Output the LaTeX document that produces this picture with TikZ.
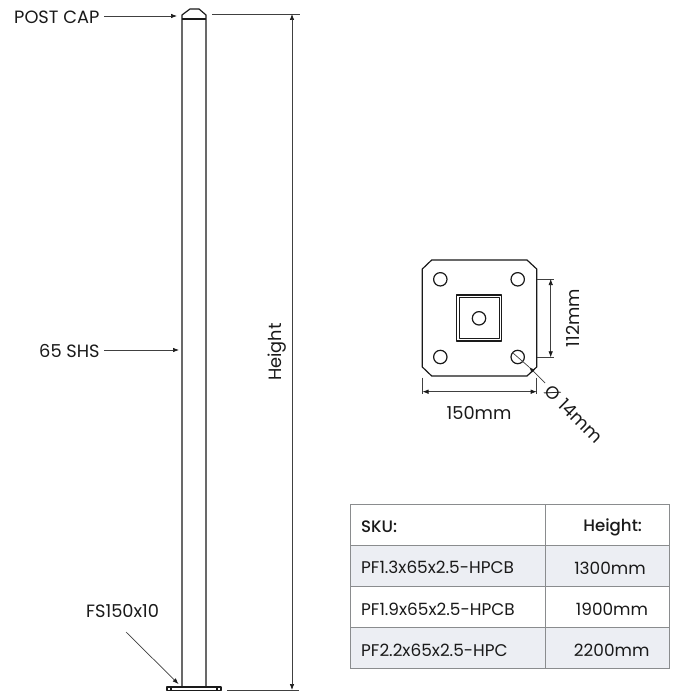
\documentclass[tikz,border=0pt]{standalone}
\usepackage{fontspec}
\setmainfont{Poppins}
\usetikzlibrary{arrows.meta}
\definecolor{ink}{HTML}{1A1A1A}
\definecolor{dimc}{HTML}{404040}
\definecolor{rowc}{HTML}{ECEEF3}
\definecolor{gridc}{HTML}{8A8C8E}
\tikzset{
  part/.style={draw=ink,line width=1.2pt,line join=round},
  dimline/.style={draw=dimc,line width=0.7pt},
  dimarrow/.style={dimline,-{Latex[length=6pt,width=4.5pt,color=ink]}},
  dimboth/.style={dimline,{Latex[length=6pt,width=4.5pt,color=ink]}-{Latex[length=6pt,width=4.5pt,color=ink]}},
  lab/.style={text=ink,inner sep=0pt,font=\fontsize{17.8}{20}\selectfont},
  cell/.style={text=ink,inner sep=0pt,font=\fontsize{16.9}{20}\selectfont},
  cellh/.style={text=ink,inner sep=0pt,font=\fontsize{16.6}{20}\selectfont\fontspec{Poppins Medium}},
  grid/.style={draw=gridc,line width=1pt}
}
\begin{document}
\begin{tikzpicture}[x=1pt,y=-1pt]
\useasboundingbox (0,0) rectangle (700,700);
\fill[white] (0,0) rectangle (700,700);
% post
\draw[part] (182,687) -- (182,15) -- (190,9) -- (199,9) -- (206,15) -- (206,687);
\draw[part] (182,19) -- (206,19);
\draw[part] (167,687) rectangle (221,690.5);
\draw[part] (171,687) -- (171,690.5);
\draw[part] (217,687) -- (217,690.5);
% labels left
\node[lab,anchor=west] (cap) at (14,17.5) {POST CAP};
\coordinate (capS) at (104,16);
\coordinate (capE) at (177,16);
\draw[dimarrow] (capS) -- (capE);
\node[lab,anchor=west] (shs) at (39,351) {65 SHS};
\coordinate (shsS) at (104,350);
\coordinate (shsE) at (179,350);
\draw[dimarrow] (shsS) -- (shsE);
\node[lab,anchor=west] (fs) at (86,611) {FS150x10};
\coordinate (fsS) at (126,632);
\coordinate (fsE) at (178.5,684);
\draw[dimarrow] (fsS) -- (fsE);
% height
\coordinate (hT1) at (212,14);
\coordinate (hT2) at (300,14);
\coordinate (hB1) at (227,690);
\coordinate (hB2) at (299,690);
\coordinate (hTa) at (292,14);
\coordinate (hBa) at (292,690);
\draw[dimline] (hT1) -- (hT2);
\draw[dimline] (hB1) -- (hB2);
\draw[dimboth] (hTa) -- (hBa);
\node[lab,rotate=90] (height) at (277.5,352) {Height};
% plate
\draw[part] (431.7,260) -- (527,260) -- (536.7,269) -- (536.7,367) -- (527,376) -- (431.7,376) -- (422.3,367) -- (422.3,269) -- cycle;
\draw[part] (456.3,295) rectangle (501.7,341);
\draw[part,line width=0.8pt] (459,297.7) rectangle (499,338.7);
\draw[part] (479,318.3) circle (6.7);
\draw[part] (440.3,279.3) circle (6.7);
\draw[part] (517.7,279.3) circle (6.7);
\draw[part] (440.3,357) circle (6.7);
\draw[part] (517.7,357) circle (6.7);
% 112
\coordinate (aT1) at (537.3,279);
\coordinate (aT2) at (554,279);
\coordinate (aB1) at (537.3,357.3);
\coordinate (aB2) at (554,357.3);
\coordinate (aTa) at (550.7,279);
\coordinate (aBa) at (550.7,357.3);
\draw[dimline] (aT1) -- (aT2);
\draw[dimline] (aB1) -- (aB2);
\draw[dimboth] (aTa) -- (aBa);
\node[lab,rotate=90] (d112) at (573,318) {112mm};
% 150
\coordinate (bL1) at (422.5,377.7);
\coordinate (bL2) at (422.5,394);
\coordinate (bR1) at (536.7,377.7);
\coordinate (bR2) at (536.7,394);
\coordinate (bLa) at (422.5,391.7);
\coordinate (bRa) at (536.7,391.7);
\draw[dimline] (bL1) -- (bL2);
\draw[dimline] (bR1) -- (bR2);
\draw[dimboth] (bLa) -- (bRa);
\node[lab] (d150) at (479,413) {150mm};
% dia
\coordinate (cA) at (513.3,353.3);
\coordinate (cB) at (529,367);
\coordinate (cC) at (545,383);
\draw[dimline] (cA) -- (cB);
\draw[dimarrow] (cC) -- (cB);
\node[lab,rotate=-45] (d14) at (574,414) {Ø 14mm};
% table
\fill[rowc] (350.7,545) rectangle (669,586.3);
\fill[rowc] (350.7,627.7) rectangle (669,668);
\draw[grid] (350.7,504) rectangle (669,668);
\draw[grid] (545.7,504) -- (545.7,668);
\draw[grid] (350.7,545) -- (669,545);
\draw[grid] (350.7,586.3) -- (669,586.3);
\draw[grid] (350.7,627.7) -- (669,627.7);
\node[cellh,anchor=west] (t1) at (361,527) {SKU:};
\node[cellh] (t2) at (612.7,527) {Height:};
\node[cell,anchor=west] (t3) at (361,567.5) {PF1.3x65x2.5-HPCB};
\node[cell] (t4) at (610,568) {1300mm};
\node[cell,anchor=west] (t5) at (361,609) {PF1.9x65x2.5-HPCB};
\node[cell] (t6) at (612,609.5) {1900mm};
\node[cell,anchor=west] (t7) at (361,650) {PF2.2x65x2.5-HPC};
\node[cell] (t8) at (611.7,650.5) {2200mm};
\end{tikzpicture}
\end{document}
